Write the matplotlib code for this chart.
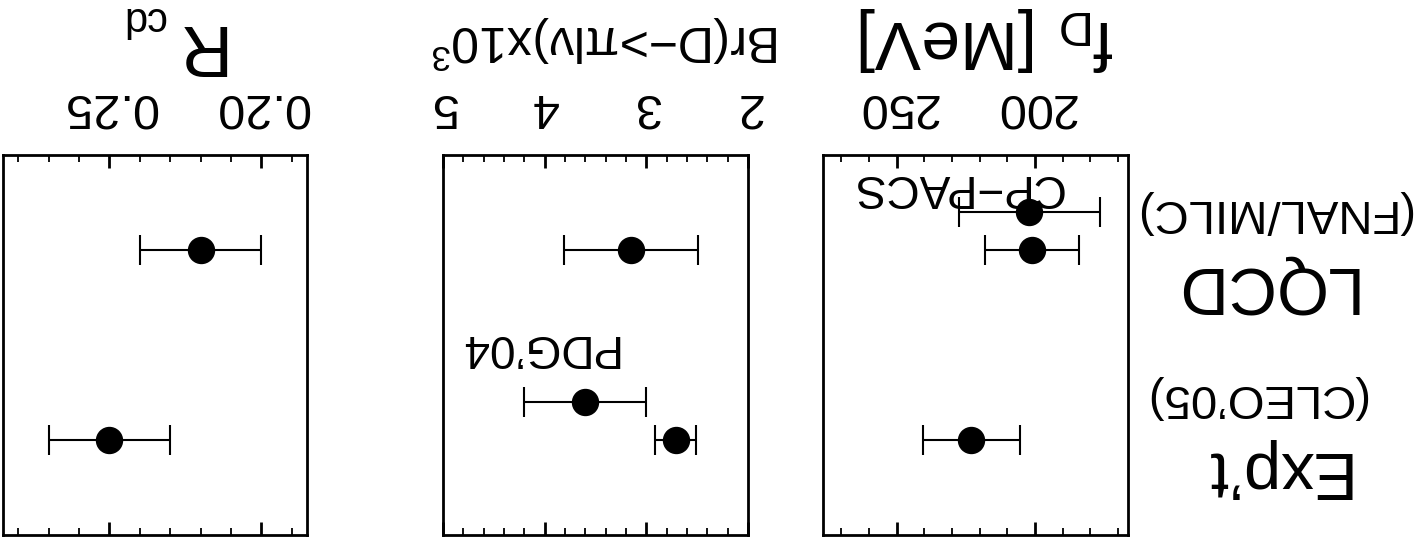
import matplotlib
matplotlib.use("Agg")
import matplotlib.pyplot as plt
from matplotlib.ticker import MultipleLocator, FormatStrFormatter

plt.rcParams['font.family'] = ['Liberation Sans', 'DejaVu Sans']
plt.rcParams['mathtext.fontset'] = 'custom'
plt.rcParams['mathtext.rm'] = 'Liberation Sans'
plt.rcParams['mathtext.it'] = 'Liberation Sans:italic'
plt.rcParams['mathtext.sf'] = 'Liberation Sans'

# rows (distance from the top of each panel, 0..10)
row_cleo = 2.5
row_pdg = 3.5
row_fnal = 7.5
row_cppacs = 8.5

# f_D [MeV]
fd_rows = [row_cleo, row_fnal, row_cppacs]
fd_vals = [223.0, 201.0, 202.0]
fd_errs = [17.6, 17.0, 25.5]

# Br(D -> pi l nu) x 10^3
br_rows = [row_cleo, row_pdg, row_fnal]
br_vals = [2.71, 3.60, 3.15]
br_errs = [0.20, 0.60, 0.66]

# R_cd
rcd_rows = [row_cleo, row_fnal]
rcd_vals = [0.25, 0.22]
rcd_errs = [0.02, 0.02]

W, H = 1418, 545
fig = plt.figure(figsize=(W / 100, H / 100), dpi=100)


def rect(x0, x1, y0=155, y1=535):
    return [x0 / W, 1 - y1 / H, (x1 - x0) / W, (y1 - y0) / H]


def at(x, y):
    return x / W, 1 - y / H


def panel(r, xlim, major, minor, fmt, rows, vals, errs):
    ax = fig.add_axes(r)
    ax.set_xlim(*xlim)
    ax.set_ylim(0, 10)
    ax.set_yticks([])
    ax.xaxis.set_major_locator(MultipleLocator(major))
    ax.xaxis.set_minor_locator(MultipleLocator(minor))
    ax.xaxis.set_major_formatter(FormatStrFormatter(fmt))
    ax.tick_params(axis='x', which='both', direction='in', top=True, bottom=True,
                   labeltop=True, labelbottom=False, labelrotation=180,
                   labelsize=35, pad=19)
    ax.tick_params(axis='x', which='major', length=9.5, width=2)
    ax.tick_params(axis='x', which='minor', length=5, width=1.3)
    for s in ax.spines.values():
        s.set_linewidth(2)
    ax.errorbar(vals, rows, xerr=errs, fmt='o', color='k', ms=18.7,
                elinewidth=1.5, capsize=11, capthick=1.5)
    return ax


panel(rect(3, 307), (0.285, 0.185), 0.05, 0.01, '%.2f', rcd_rows, rcd_vals, rcd_errs)
panel(rect(443, 748), (5, 2), 1, 0.2, '%d', br_rows, br_vals, br_errs)
panel(rect(823, 1128), (276.6, 166.4), 50, 10, '%d', fd_rows, fd_vals, fd_errs)


def label(x, y, s, size):
    fig.text(*at(x, y), s, fontsize=size, rotation=180, rotation_mode='anchor',
             ha='center', va='baseline')


# panel titles
label(196, 25, 'R', 52)
label(143, 7, 'cd', 30)
label(606, 25, 'Br(D\u2212>\u03c0l\u03bd)x10$^3$', 36)
label(987, 21, r'$\mathregular{f_D}$ [MeV]', 50)

# row labels
label(1273, 452, 'Exp\u2019t', 48)
label(1255, 385, '(CLEO\u201905)', 34)
label(1262, 267, 'LQCD', 48)
label(1272, 200, '(FNAL/MILC)', 34)

# point labels inside panels
label(537, 335, 'PDG\u201904', 33)
label(957, 175, 'CP\u2212PACS', 33)

fig.savefig('out.png', dpi=100)
